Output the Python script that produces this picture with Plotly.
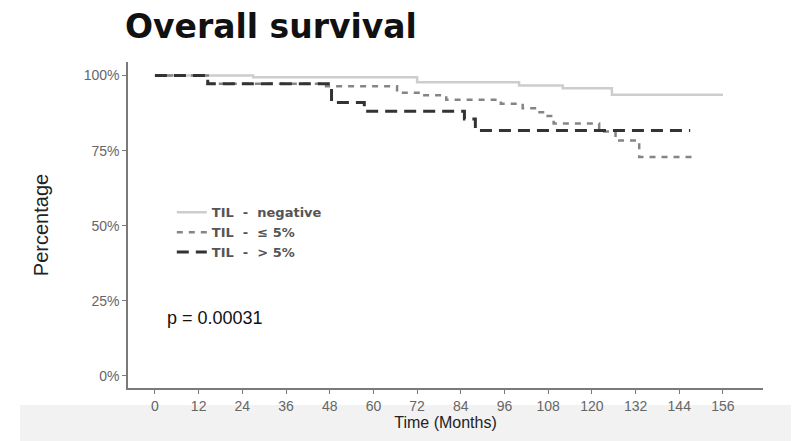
import plotly.graph_objects as go

# Kaplan-Meier step data (months, survival %)
neg_t = [0, 27, 72, 100, 112, 125.5, 156]
neg_s = [100, 99.4, 97.8, 96.7, 95.8, 93.6, 93.6]

low_t = [0, 14.5, 47, 66.5, 73, 80, 95, 101, 105, 107, 109.5, 122, 126.5, 133, 149]
low_s = [100, 97.3, 96.4, 94.3, 93.4, 91.9, 90.6, 89.1, 87.8, 86.5, 84.0, 81.4, 78.4, 72.9, 72.9]

high_t = [0, 14.5, 48.5, 57.5, 85, 88, 147]
high_s = [100, 97.3, 91.0, 88.1, 85.5, 81.7, 81.7]

x_ticks = list(range(0, 157, 12))
y_ticks = [0, 25, 50, 75, 100]
y_labels = ["0%", "25%", "50%", "75%", "100%"]

# page body adds an 8px offset; size the figure to compensate
W, H = 791, 433

fig = go.Figure()
fig.add_trace(go.Scatter(x=neg_t, y=neg_s, mode="lines", line_shape="hv",
                         name="TIL  -  negative",
                         line=dict(color="#cdcdcd", width=2.5)))
fig.add_trace(go.Scatter(x=low_t, y=low_s, mode="lines", line_shape="hv",
                         name="TIL  -  ≤ 5%",
                         line=dict(color="#858585", width=2.5, dash="6px,6px")))
fig.add_trace(go.Scatter(x=high_t, y=high_s, mode="lines", line_shape="hv",
                         name="TIL  -  > 5%",
                         line=dict(color="#333333", width=3, dash="12px,7px")))

fig.add_annotation(x=2.8, y=19.3, xref="x", yref="y", text="p = 0.00031",
                   showarrow=False, xanchor="left", yanchor="middle",
                   font=dict(family="Liberation Sans, Arial", size=18, color="#111"))

# faint band at bottom of the frame
fig.add_shape(type="rect", xref="paper", yref="paper",
              x0=-0.17, x1=1.06, y0=-0.17, y1=-0.052,
              fillcolor="#f2f2f2", line_width=0, layer="below")

fig.update_layout(
    width=W, height=H,
    margin=dict(l=120, r=36, t=54, b=53),
    paper_bgcolor="white", plot_bgcolor="white",
    title=dict(text="<b>Overall survival</b>", x=117/W, xanchor="left",
               xref="container", y=1 - 18/H, yanchor="middle", yref="container",
               font=dict(family="DejaVu Sans", size=33, color="#111")),
    showlegend=True,
    legend=dict(x=0.069, y=0.585, xanchor="left", yanchor="top",
                bgcolor="rgba(0,0,0,0)",
                font=dict(family="DejaVu Sans", size=13, color="#555", weight="bold"),
                tracegroupgap=0, itemwidth=30),
    xaxis=dict(range=[-7.4, 167], tickvals=x_ticks, ticktext=[str(v) for v in x_ticks],
               showgrid=False, zeroline=False, showline=True, linecolor="#7a7a7a",
               linewidth=1.5, ticks="outside", ticklen=4, tickcolor="#7a7a7a",
               tickfont=dict(family="Liberation Sans, Arial", size=14, color="#666"),
               title=dict(text="Time (Months)", standoff=4,
                          font=dict(family="Liberation Sans, Arial", size=16, color="#222"))),
    yaxis=dict(range=[-4, 104.5], tickvals=y_ticks, ticktext=y_labels,
               showgrid=False, zeroline=False, showline=True, linecolor="#7a7a7a",
               linewidth=1.5, ticks="outside", ticklen=4, tickcolor="#7a7a7a",
               tickfont=dict(family="Liberation Sans, Arial", size=14, color="#666"),
               title=dict(text="Percentage", standoff=30,
                          font=dict(family="Liberation Sans, Arial", size=20, color="#222"))),
)

fig.write_html("out.html")
